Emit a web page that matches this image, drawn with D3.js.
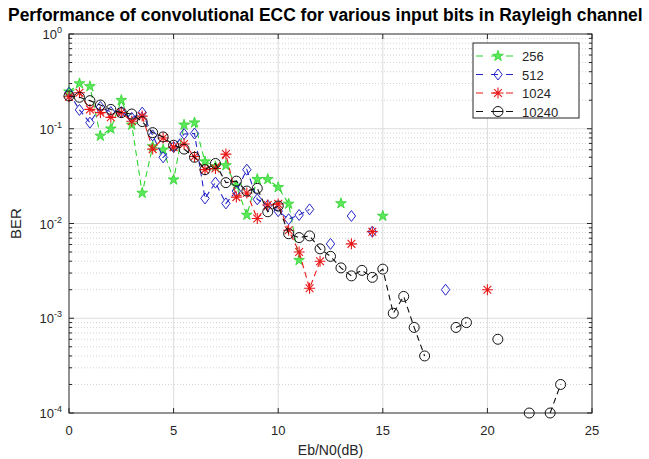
<!DOCTYPE html>
<html><head><meta charset="utf-8">
<script src="https://cdn.jsdelivr.net/npm/d3@7"></script>
<style>body{margin:0;background:#fff}svg{display:block}text{font-family:"Liberation Sans",Arial,sans-serif}</style>
</head><body>
<svg id="c" width="649" height="459"></svg>
<script>
const ebn0 = [0,0.5,1,1.5,2,2.5,3,3.5,4,4.5,5,5.5,6,6.5,7,7.5,8,8.5,9,9.5,10,10.5,11,11.5,12,12.5,13,13.5,14,14.5,15,15.5,16,16.5,17,17.5,18,18.5,19,19.5,20,20.5,21,21.5,22,22.5,23,23.5];
const ber256 = [0.246,0.30,0.28,0.084,0.10,0.20,0.11,0.021,0.065,0.06,0.029,0.11,0.116,0.045,0.04,0.041,0.025,0.0123,0.0293,0.0293,0.0241,0.0161,0.0041,null,null,null,0.0163,null,null,null,0.012,null,null,null,null,null,null,null,null,null,null,null,null,null,null,null,null,null];
const ber512 = [0.24,0.158,0.116,0.17,0.15,0.15,0.13,0.148,0.085,0.05,0.064,0.088,0.089,0.0184,0.027,0.0163,0.022,0.037,0.018,0.0155,0.0135,0.0111,0.0123,0.0141,null,0.0061,null,0.012,null,0.0082,null,null,null,null,null,null,0.002,null,null,null,null,null,null,null,null,null,null,null];
const ber1024 = [0.218,0.24,0.16,0.148,0.132,0.148,0.12,0.136,0.061,0.08,0.064,0.069,0.051,0.037,0.038,0.054,0.019,0.021,0.0113,0.0157,0.0161,0.0085,0.005,0.00207,0.004,null,null,0.0061,null,0.0082,null,null,null,null,null,null,null,null,null,null,0.002,null,null,null,null,null,null,null];
const ber10240 = [0.222,0.215,0.198,0.178,0.160,0.148,0.143,0.119,0.091,0.082,0.067,0.061,0.050,0.037,0.043,0.027,0.028,0.022,0.0235,0.0133,0.0153,0.0078,0.0071,0.0074,0.0054,0.0045,0.0034,0.0028,0.0032,0.0027,0.0033,0.00113,0.0017,0.0008,0.0004,null,null,0.0008,0.0009,null,null,0.0006,null,null,0.0001,null,0.0001,0.0002];
const seriesNames = ["256","512","1024","10240"];
const xTicks = [0,5,10,15,20,25];
const yTickExps = [0,-1,-2,-3,-4];
const titleText = "Performance of convolutional ECC for various input bits in Rayleigh channel";

const svg = d3.select("#c");
const L=69, R=592, T=34, B=413;
const x = d3.scaleLinear().domain([0,25]).range([L,R]);
const y = d3.scaleLog().domain([1e-4,1]).range([B,T]);

// grid
const g = svg.append("g");
const minors=[];
for(let e=-4;e<0;e++) for(let k=2;k<=9;k++) minors.push(k*Math.pow(10,e));
g.selectAll(".mn").data(minors).enter().append("line")
 .attr("x1",L).attr("x2",R).attr("y1",d=>y(d)).attr("y2",d=>y(d))
 .attr("stroke","#c8c8c8").attr("stroke-width",0.8).attr("stroke-dasharray","1,2");
g.selectAll(".mj").data(yTickExps.slice(1,4)).enter().append("line")
 .attr("x1",L).attr("x2",R).attr("y1",d=>y(Math.pow(10,d))).attr("y2",d=>y(Math.pow(10,d)))
 .attr("stroke","#dcdcdc").attr("stroke-width",1);
g.selectAll(".vx").data(xTicks.slice(1,5)).enter().append("line")
 .attr("y1",T).attr("y2",B).attr("x1",d=>x(d)).attr("x2",d=>x(d))
 .attr("stroke","#dcdcdc").attr("stroke-width",1);

// axes box and ticks
const ax = svg.append("g").attr("stroke","#262626").attr("stroke-width",1);
ax.append("rect").attr("x",L).attr("y",T).attr("width",R-L).attr("height",B-T).attr("fill","none");
xTicks.forEach(v=>{
  ax.append("line").attr("x1",x(v)).attr("x2",x(v)).attr("y1",B).attr("y2",B-5);
  ax.append("line").attr("x1",x(v)).attr("x2",x(v)).attr("y1",T).attr("y2",T+5);
});
yTickExps.forEach(e=>{
  const yy=y(Math.pow(10,e));
  ax.append("line").attr("x1",L).attr("x2",L+5).attr("y1",yy).attr("y2",yy);
  ax.append("line").attr("x1",R).attr("x2",R-5).attr("y1",yy).attr("y2",yy);
});
minors.forEach(v=>{
  const yy=y(v);
  ax.append("line").attr("x1",L).attr("x2",L+3).attr("y1",yy).attr("y2",yy);
  ax.append("line").attr("x1",R).attr("x2",R-3).attr("y1",yy).attr("y2",yy);
});

// tick labels
svg.selectAll(".xl").data(xTicks).enter().append("text")
 .attr("x",d=>x(d)).attr("y",435).attr("text-anchor","middle")
 .attr("font-size",13).attr("fill","#262626").text(d=>d);
yTickExps.forEach(e=>{
  const t=svg.append("text").attr("x",62).attr("y",y(Math.pow(10,e))+5)
   .attr("text-anchor","end").attr("font-size",13).attr("fill","#262626");
  t.append("tspan").text("10");
  t.append("tspan").attr("dy",-6).attr("font-size",9).text(e===0?"0":"-"+(-e));
});
svg.append("text").attr("x",x(12.5)).attr("y",455).attr("text-anchor","middle")
 .attr("font-size",14).attr("fill","#262626").text("Eb/N0(dB)");
svg.append("text").attr("transform","translate(21,"+((T+B)/2)+") rotate(-90)")
 .attr("text-anchor","middle").attr("font-size",15).attr("fill","#262626").text("BER");
const tt=svg.append("text").attr("x",8).attr("y",21).attr("font-weight","bold")
 .attr("font-size",14).attr("fill","#000").text(titleText);
const w=tt.node().getComputedTextLength();
tt.attr("font-size",14*635/w);

// series
const colors=["#2fd42f","#2525c8","#e81818","#111111"];
const data=[ber256,ber512,ber1024,ber10240];
function marker(sel,i){
  const c=colors[i];
  if(i===0){
    sel.append("path").attr("d",d3.symbol().type(d3.symbolStar).size(36)())
     .attr("fill","#5be85b").attr("stroke",c).attr("stroke-width",0.8);
  } else if(i===1){
    sel.append("path").attr("d","M0,-5.5L4.2,0L0,5.5L-4.2,0Z").attr("fill","none").attr("stroke",c).attr("stroke-width",1);
  } else if(i===2){
    sel.append("path").attr("d","M0,-5.5V5.5M-5.5,0H5.5M-3.9,-3.9L3.9,3.9M-3.9,3.9L3.9,-3.9").attr("stroke",c).attr("stroke-width",1.1);
  } else {
    sel.append("circle").attr("r",5).attr("fill","none").attr("stroke",c).attr("stroke-width",1);
  }
}
const plot=svg.append("g");
data.forEach((arr,i)=>{
  const pts=ebn0.map((xv,j)=>({x:xv,y:arr[j]}));
  const line=d3.line().defined(d=>d.y!=null).x(d=>x(d.x)).y(d=>y(d.y));
  plot.append("path").attr("d",line(pts)).attr("fill","none").attr("stroke",colors[i])
   .attr("stroke-width",1.1).attr("stroke-dasharray","6,4");
  pts.filter(d=>d.y!=null).forEach(d=>{
    const m=plot.append("g").attr("transform","translate("+x(d.x)+","+y(d.y)+")");
    marker(m,i);
  });
});

// legend
const lg=svg.append("g");
lg.append("rect").attr("x",473).attr("y",43).attr("width",106).attr("height",75)
 .attr("fill","#fff").attr("stroke","#262626").attr("stroke-width",1);
seriesNames.forEach((n,i)=>{
  const yy=56+i*18.5;
  lg.append("line").attr("x1",476).attr("x2",520).attr("y1",yy).attr("y2",yy)
   .attr("stroke",colors[i]).attr("stroke-width",1.1).attr("stroke-dasharray","7,8");
  const m=lg.append("g").attr("transform","translate(498,"+yy+")");
  marker(m,i);
  if(i===3) m.append("line").attr("x1",-5).attr("x2",5).attr("stroke",colors[i]);
  lg.append("text").attr("x",522).attr("y",yy+5).attr("font-size",13).attr("fill","#262626").text(n);
});
</script>
</body></html>
